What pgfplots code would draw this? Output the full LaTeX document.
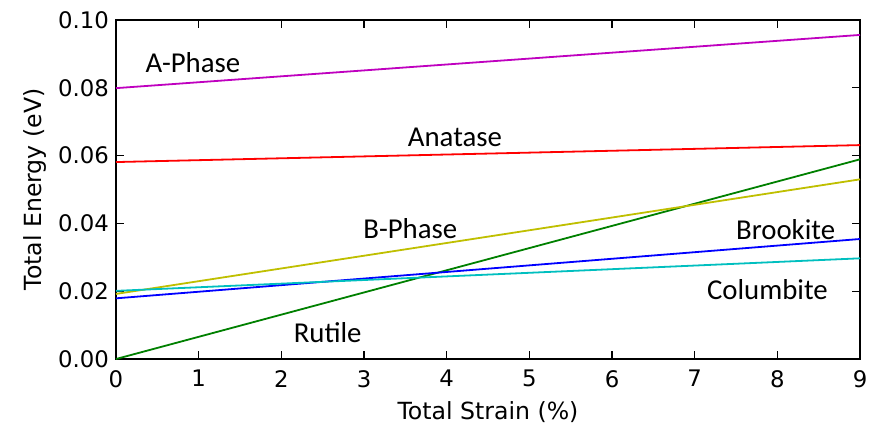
\documentclass[border=0pt]{standalone}
\usepackage{fontspec}
\setmainfont{DejaVu Sans}
\newfontfamily\lblfont{Carlito}
\usepackage{pgfplots}
\pgfplotsset{compat=1.18}

\definecolor{mplm}{rgb}{0.75,0,0.75}
\definecolor{mplr}{rgb}{1,0,0}
\definecolor{mplg}{rgb}{0,0.5,0}
\definecolor{mply}{rgb}{0.75,0.75,0}
\definecolor{mplb}{rgb}{0,0,1}
\definecolor{mplc}{rgb}{0,0.75,0.75}

\begin{document}
\begin{tikzpicture}
\useasboundingbox (-58pt,-33pt) rectangle (377pt,179.5pt);
\begin{axis}[
    scale only axis, width=372pt, height=169.5pt,
    xmin=0, xmax=9, ymin=0, ymax=0.10,
    xtick={0,1,...,9}, ytick={0,0.02,0.04,0.06,0.08,0.10},
    yticklabel style={/pgf/number format/.cd, fixed, fixed zerofill, precision=2},
    scaled y ticks=false,
    /pgf/number format/assume math mode=true,
    tick label style={font=\fontsize{11.4}{13}\selectfont},
    label style={font=\fontsize{11.8}{14}\selectfont},
    xticklabel style={yshift=-2pt},
    xlabel={Total Strain (\%)}, ylabel={Total Energy (eV)},
    tick align=inside, major tick length=4pt,
    axis line style={line width=0.8pt},
    every tick/.style={black, line width=0.6pt},
    xtick pos=both, ytick pos=both,
    xlabel style={yshift=-0.5pt}, ylabel style={yshift=-1pt},
    every axis plot/.append style={line width=0.9pt},
    clip=false,
]
\addplot[mplm] coordinates {(0,0.0799) (9,0.0956)};
\addplot[mplr] coordinates {(0,0.0581) (9,0.0631)};
\addplot[mplg] coordinates {(0,0.0) (9,0.0589)};
\addplot[mply] coordinates {(0,0.0192) (9,0.0530)};
\addplot[mplb] coordinates {(0,0.0179) (9,0.0354)};
\addplot[mplc] coordinates {(0,0.0201) (9,0.0297)};
\begin{scope}[font=\lblfont\fontsize{14.4}{16}\selectfont]
\node at (axis cs:0.93,0.0873) {A-Phase};
\node at (axis cs:4.10,0.0655) {Anatase};
\node at (axis cs:3.56,0.0386) {B-Phase};
\node at (axis cs:8.10,0.0383) {Brookite};
\node at (axis cs:7.88,0.0204) {Columbite};
\node at (axis cs:2.56,0.0077) {Rutile};
\end{scope}
\end{axis}
\end{tikzpicture}
\end{document}
